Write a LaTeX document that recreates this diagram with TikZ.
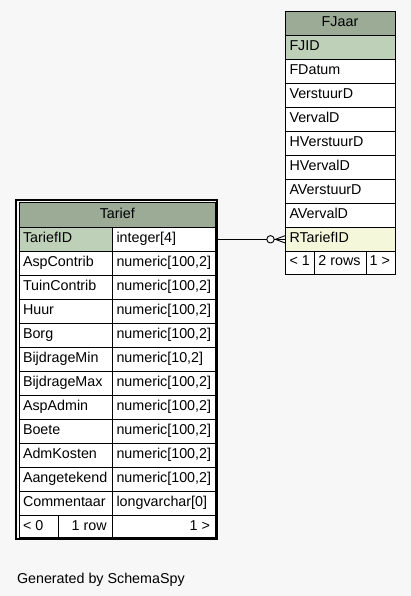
\documentclass[tikz,border=0pt]{standalone}
\usepackage{fontspec}
\setmainfont{Liberation Sans}
\definecolor{bgc}{HTML}{F7F7F7}
\definecolor{hdr}{HTML}{9BAB96}
\definecolor{pkc}{HTML}{BED1B8}
\definecolor{fkc}{HTML}{F4F7DA}
\tikzset{
  cellbox/.style={draw=black, line width=1pt, anchor=north west, inner sep=0pt, outer sep=0pt, fill=white},
  txt/.style={anchor=base west, inner sep=0pt, outer sep=0pt, font=\fontsize{14.3pt}{16pt}\selectfont},
  txtc/.style={txt, anchor=base},
  txtr/.style={txt, anchor=base east},
  frame/.style={draw=black, line width=2.3pt, anchor=north west, inner sep=0pt, outer sep=0pt},
  edge/.style={draw=black, line width=0.9pt},
}
\newcommand\trow[4]{%
  \node[cellbox, fill=#4, minimum width=93pt, minimum height=24pt] (tn#1) at (19,{227+24*#1}) {};
  \node[cellbox, minimum width=103.5pt, minimum height=24pt] (tt#1) at (112,{227+24*#1}) {};
  \node[txt] (tnl#1) at ([xshift=4pt,yshift=-15pt]tn#1.north west) {#2};
  \node[txt] (ttl#1) at ([xshift=4.5pt,yshift=-15pt]tt#1.north west) {#3};
}
\newcommand\frow[3]{%
  \node[cellbox, fill=#3, minimum width=110pt, minimum height=23.9pt] (fr#1) at (285,{36+23.9*#1}) {};
  \node[txt] (frl#1) at ([xshift=4.5pt,yshift=-14.8pt]fr#1.north west) {#2};
}
\begin{document}
\begin{tikzpicture}[x=1pt,y=-1pt]
\useasboundingbox (0,0) rectangle (411,596);
\fill[bgc] (0,0) rectangle (411,596);

% ---------- FJaar ----------
\node[cellbox, fill=hdr, minimum width=110pt, minimum height=24.3pt] (fh) at (285,11.7) {};
\node[txtc] (fhl) at ([yshift=-15pt]fh.north) {FJaar};
\frow{0}{FJID}{pkc}
\frow{1}{FDatum}{white}
\frow{2}{VerstuurD}{white}
\frow{3}{VervalD}{white}
\frow{4}{HVerstuurD}{white}
\frow{5}{HVervalD}{white}
\frow{6}{AVerstuurD}{white}
\frow{7}{AVervalD}{white}
\frow{8}{RTariefID}{fkc}
\node[cellbox, minimum width=29.3pt, minimum height=23.2pt] (ff1) at (285,251.1) {};
\node[cellbox, minimum width=51.7pt, minimum height=23.2pt] (ff2) at (314.3,251.1) {};
\node[cellbox, minimum width=29pt, minimum height=23.2pt] (ff3) at (366,251.1) {};
\node[txt] (ff1l) at ([xshift=4.5pt,yshift=-14.8pt]ff1.north west) {< 1};
\node[txtr] (ff2l) at ([xshift=-5.5pt,yshift=-14.8pt]ff2.north east) {2 rows};
\node[txtr] (ff3l) at ([xshift=-5pt,yshift=-14.8pt]ff3.north east) {1 >};

% ---------- Tarief ----------
\node[cellbox, fill=hdr, minimum width=196.5pt, minimum height=24.5pt] (th) at (19,202.5) {};
\node[txtc] (thl) at ([yshift=-15.5pt]th.north) {Tarief};
\trow{0}{TariefID}{integer[4]}{pkc}
\trow{1}{AspContrib}{numeric[100,2]}{white}
\trow{2}{TuinContrib}{numeric[100,2]}{white}
\trow{3}{Huur}{numeric[100,2]}{white}
\trow{4}{Borg}{numeric[100,2]}{white}
\trow{5}{BijdrageMin}{numeric[10,2]}{white}
\trow{6}{BijdrageMax}{numeric[100,2]}{white}
\trow{7}{AspAdmin}{numeric[100,2]}{white}
\trow{8}{Boete}{numeric[100,2]}{white}
\trow{9}{AdmKosten}{numeric[100,2]}{white}
\trow{10}{Aangetekend}{numeric[100,2]}{white}
\trow{11}{Commentaar}{longvarchar[0]}{white}
\node[cellbox, minimum width=39pt, minimum height=22pt] (tf1) at (19,515) {};
\node[cellbox, minimum width=54pt, minimum height=22pt] (tf2) at (58,515) {};
\node[cellbox, minimum width=103.5pt, minimum height=22pt] (tf3) at (112,515) {};
\node[txt] (tf1l) at ([xshift=4pt,yshift=-15.5pt]tf1.north west) {< 0};
\node[txtr] (tf2l) at ([xshift=-5.3pt,yshift=-15.5pt]tf2.north east) {1 row};
\node[txtr] (tf3l) at ([xshift=-5.5pt,yshift=-15.5pt]tf3.north east) {1 >};
\node[frame, minimum width=201pt, minimum height=339pt] (tframe) at (16,199.8) {};

% ---------- relationship ----------
\node[circle, draw=black, line width=0.9pt, fill=bgc, minimum size=7.4pt, inner sep=0pt, outer sep=0pt] (odot) at (270.5,239.3) {};
\coordinate (crow) at ([xshift=1.2pt]odot.east);
\draw[edge] (tframe.east |- odot) -- (odot.west);
\draw[edge] (odot.east) -- (fr8.west |- odot);
\draw[edge] (crow) -- ([yshift=3.6pt]fr8.west |- odot);
\draw[edge] (crow) -- ([yshift=-3.6pt]fr8.west |- odot);

% ---------- caption ----------
\node[txt] (gen) at (17,583) {Generated by SchemaSpy};
\end{tikzpicture}
\end{document}
